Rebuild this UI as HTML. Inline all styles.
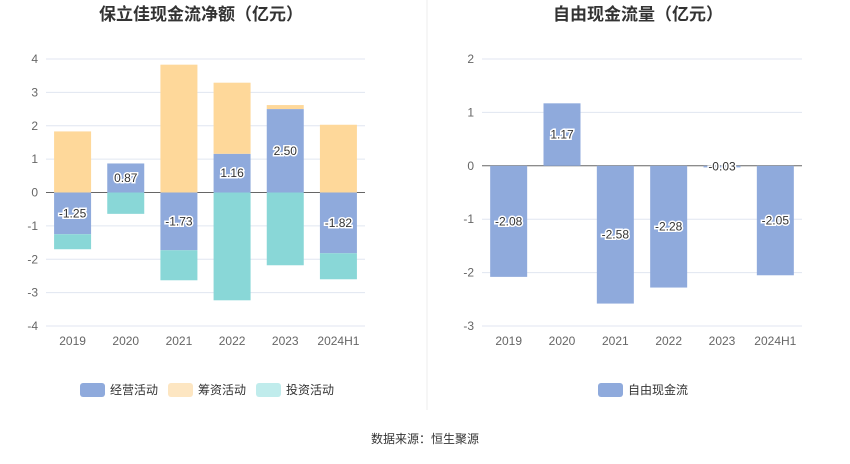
<!DOCTYPE html>
<html><head><meta charset="utf-8"><style>
body{margin:0;background:#fff;font-family:"Liberation Sans","Noto Sans CJK SC",sans-serif;}
svg text{font-family:"Liberation Sans","Noto Sans CJK SC",sans-serif;}
</style></head><body>
<svg id="s" width="850" height="459" viewBox="0 0 850 459" xmlns="http://www.w3.org/2000/svg">
<text x="201" y="20" text-anchor="middle" font-size="17" font-weight="bold" fill="#333">保立佳现金流净额（亿元）</text>
<text x="638" y="20" text-anchor="middle" font-size="17" font-weight="bold" fill="#333">自由现金流量（亿元）</text>
<line x1="427" y1="0" x2="427" y2="410" stroke="#eee"/>
<g id="L"></g><g id="R"></g>
<g>
<rect x="80" y="383" width="25" height="14" rx="3" fill="#8faadc"/>
<text x="110" y="394" font-size="12" fill="#333">经营活动</text>
<rect x="168" y="383" width="25" height="14" rx="3" fill="#fde6c2"/>
<text x="198" y="394" font-size="12" fill="#333">筹资活动</text>
<rect x="256" y="383" width="25" height="14" rx="3" fill="#c0ecec"/>
<text x="286" y="394" font-size="12" fill="#333">投资活动</text>
</g>
<g>
<rect x="598" y="383" width="25" height="14" rx="3" fill="#8faadc"/>
<text x="628" y="394" font-size="12" fill="#333">自由现金流</text>
</g>
<text x="425" y="443" text-anchor="middle" font-size="12" fill="#333">数据来源：恒生聚源</text>
</svg>
<script>
const categories=["2019","2020","2021","2022","2023","2024H1"];
const operating=[-1.25,0.87,-1.73,1.16,2.50,-1.82];
const financing=[1.83,0.0,3.83,2.13,0.12,2.03];
const investing=[-0.45,-0.64,-0.90,-3.23,-2.18,-0.78];
const leftTicks=[4,3,2,1,0,-1,-2,-3,-4];
const fcf=[-2.08,1.17,-2.58,-2.28,-0.03,-2.05];
const rightTicks=[2,1,0,-1,-2,-3];
const NS="http://www.w3.org/2000/svg";
function mk(p,t,a){const e=document.createElementNS(NS,t);for(const k in a)e.setAttribute(k,a[k]);p.appendChild(e);return e;}
function axis(g,x0,x1,yTop,yBot,ticks){
  const max=ticks[0],min=ticks[ticks.length-1];
  const y=v=>yTop+(max-v)/(max-min)*(yBot-yTop);
  ticks.forEach(t=>{
    const l=mk(g,"line",{x1:x0,x2:x1,y1:y(t),y2:y(t),stroke:t===0?"#666":"#e0e6f1"});
    
    
    const tx=mk(g,"text",{x:x0-8,y:y(t)+4,"text-anchor":"end","font-size":12,fill:"#666"});tx.textContent=t;
    
    
  });
  const bw=(x1-x0)/categories.length;
  const xc=i=>x0+bw*(i+0.5);
  categories.forEach((c,i)=>{
    const tx=mk(g,"text",{x:xc(i),y:yBot+19,"text-anchor":"middle","font-size":12,fill:"#666"});tx.textContent=c;
    
    
  });
  return {y,xc,bw};
}
function bar(g,x,w,ya,yb,fill,name){
  const r=mk(g,"rect",{x:x-w/2,y:Math.min(ya,yb),width:w,height:Math.abs(yb-ya),fill});
  
  
}
function label(g,x,yv,txt){
  const t=mk(g,"text",{x,y:yv+4,"text-anchor":"middle","font-size":12,fill:"#333",stroke:"#fff","stroke-width":3,"paint-order":"stroke"});t.textContent=txt;
  
  
}
const L=document.getElementById("L");
const a=axis(L,46,365,59,326,leftTicks);
categories.forEach((c,i)=>{
  let pos=0,neg=0;const x=a.xc(i),w=37;
  const series=[[operating[i],"#8faadc","bar-operating"],[financing[i],"#fed89a","bar-financing"],[investing[i],"#89d7d7","bar-investing"]];
  let lab=null;
  series.forEach(([v,col,n],k)=>{
    if(v>=0){bar(L,x,w,a.y(pos),a.y(pos+v),col,n+"-"+c);if(k===0)lab=a.y(v/2);pos+=v;}
    else{bar(L,x,w,a.y(neg),a.y(neg+v),col,n+"-"+c);if(k===0)lab=a.y(v/2);neg+=v;}
  });
  label(L,x,lab,operating[i].toFixed(2));
});
const R=document.getElementById("R");
const b=axis(R,482,802,59,326,rightTicks);
categories.forEach((c,i)=>{
  const x=b.xc(i);
  bar(R,x,37,b.y(0),b.y(fcf[i]),"#8faadc","bar-fcf-"+c);
  label(R,x,b.y(fcf[i]/2),fcf[i].toFixed(2));
});
</script>
</body></html>
